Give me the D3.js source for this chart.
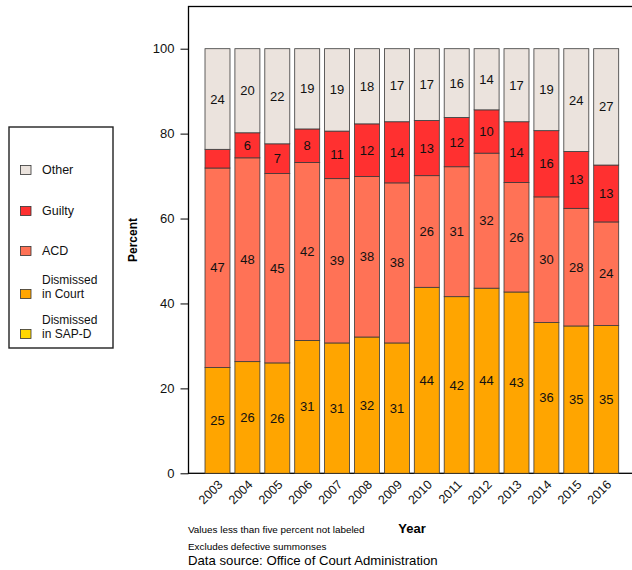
<!DOCTYPE html>
<html><head><meta charset="utf-8">
<script src="https://cdn.jsdelivr.net/npm/d3@7"></script>
<style>body{margin:0;background:#fff}svg{display:block;font-family:"Liberation Sans",Arial,sans-serif}</style>
</head><body><svg id="c" width="632" height="570"></svg>
<script>
const years = ["2003","2004","2005","2006","2007","2008","2009","2010","2011","2012","2013","2014","2015","2016"];
const sapd   = [0,0,0,0,0,0,0,0,0,0,0,0,0,0];
const court  = [24.9,26.3,26.0,31.3,30.7,32.1,30.7,43.8,41.6,43.6,42.7,35.5,34.7,34.8];
const acd    = [47.0,48.0,44.6,41.9,38.7,37.8,37.7,26.3,30.6,31.8,25.8,29.6,27.7,24.4];
const guilty = [4.4,5.9,7.0,7.9,11.2,12.4,14.4,13.0,11.6,10.2,14.3,15.6,13.4,13.4];
const other  = [23.7,19.8,22.4,18.9,19.4,17.7,17.2,16.9,16.2,14.4,17.2,19.3,24.2,27.4];
const seriesNames = ["Dismissed in SAP-D","Dismissed in Court","ACD","Guilty","Other"];
const seriesColors = ["#FFD700","#FFA500","#FF7256","#FF3030","#EBE3DD"];
const yTicks = [0,20,40,60,80,100];
const legendLabels = [["Other"],["Guilty"],["ACD"],["Dismissed","in Court"],["Dismissed","in SAP-D"]];

const rows = years.map((y,i)=>({year:y, s0:sapd[i], s1:court[i], s2:acd[i], s3:guilty[i], s4:other[i]}));
const keys = ["s0","s1","s2","s3","s4"];
const stack = d3.stack().keys(keys)(rows);

const svg = d3.select("#c");
const x = d3.scaleBand().domain(years).range([202.55, 621.15]).paddingInner(0.164).paddingOuter(0.082);
const y = d3.scaleLinear().domain([0,100]).range([473.3, 48.7]);

// plot frame
svg.append("rect").attr("x",188.5).attr("y",6.5).attr("width",500).attr("height",466.8)
  .attr("fill","none").attr("stroke","#000").attr("stroke-width",1.3);

// bars
const g = svg.append("g");
stack.forEach((layer,k)=>{
  g.selectAll(null).data(layer).enter().append("rect")
    .attr("x",d=>x(d.data.year)).attr("width",x.bandwidth())
    .attr("y",d=>y(d[1])).attr("height",d=>y(d[0])-y(d[1]))
    .attr("fill",seriesColors[k]).attr("stroke","#3a3a3a").attr("stroke-width",0.8)
    .attr("stroke-opacity",d=>(d[1]-d[0])>0?1:0);
  g.selectAll(null).data(layer.filter(d=>(d[1]-d[0])>=5)).enter().append("text")
    .attr("x",d=>x(d.data.year)+x.bandwidth()/2).attr("y",d=>y((d[0]+d[1])/2))
    .attr("dy","0.35em").attr("text-anchor","middle").attr("font-size",13).attr("fill","#111")
    .text(d=>Math.round(d[1]-d[0]));
});

// y axis
const ya = svg.append("g").attr("transform","translate(188.5,0)")
  .call(d3.axisLeft(y).tickValues(yTicks).tickSize(8).tickPadding(6));
ya.select(".domain").remove();
ya.selectAll("text").attr("font-size",13).attr("fill","#111").style("font-family","Liberation Sans, Arial, sans-serif");
ya.selectAll("line").attr("stroke","#000");

svg.append("text").attr("transform","translate(137,240) rotate(-90)").attr("text-anchor","middle")
  .attr("font-size",12).attr("font-weight","bold").text("Percent");

// x axis labels
const xa = svg.append("g").attr("transform","translate(0,473.3)")
  .call(d3.axisBottom(x).tickSize(0).tickPadding(0));
xa.select(".domain").remove();
xa.selectAll("text").attr("font-size",12.5).attr("fill","#111").style("font-family","Liberation Sans, Arial, sans-serif")
  .attr("text-anchor","end").attr("dy",0).attr("y",0)
  .attr("transform","translate(6,12) rotate(-45)");

svg.append("text").attr("x",412).attr("y",533).attr("text-anchor","middle").attr("font-size",13)
  .attr("font-weight","bold").text("Year");
svg.append("text").attr("x",188).attr("y",533).attr("font-size",9.9).text("Values less than five percent not labeled");
svg.append("text").attr("x",188).attr("y",550).attr("font-size",9.9).text("Excludes defective summonses");
svg.append("text").attr("x",188).attr("y",565).attr("font-size",13.2).text("Data source: Office of Court Administration");

// legend
const lg = svg.append("g");
lg.append("rect").attr("x",9).attr("y",127).attr("width",104).attr("height",221)
  .attr("fill","#fff").attr("stroke","#222").attr("stroke-width",1.4);
const legColorIdx = [4,3,2,1,0];
const legY = [170,211,251,294,334];
legendLabels.forEach((lines,i)=>{
  lg.append("rect").attr("x",20.5).attr("y",legY[i]-4.5).attr("width",10.5).attr("height",9)
    .attr("fill",seriesColors[legColorIdx[i]]).attr("stroke","#333").attr("stroke-width",0.8);
  if(lines.length===1){
    lg.append("text").attr("x",42).attr("font-size",12.5).attr("fill","#111")
      .attr("y",legY[i]).attr("dy","0.35em").text(lines[0]);
  } else {
    lines.forEach((ln,j)=>{
      lg.append("text").attr("x",42).attr("font-size",12).attr("fill","#111")
        .attr("y",legY[i]-14*(lines.length-1-j)).attr("dy","0.35em").text(ln);
    });
  }
});
</script></body></html>
